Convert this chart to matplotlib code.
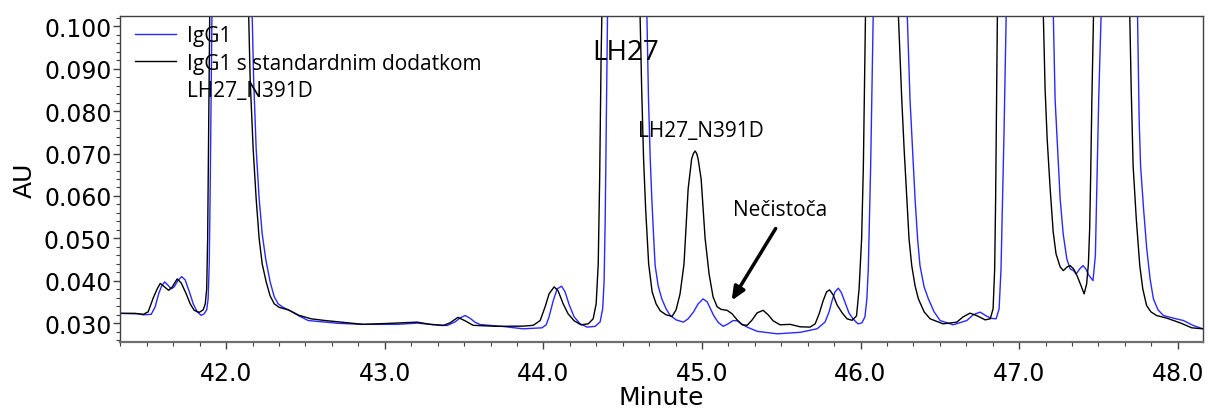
import matplotlib
matplotlib.use("Agg")
import matplotlib.pyplot as plt
from matplotlib.ticker import MultipleLocator, FormatStrFormatter
from matplotlib.lines import Line2D

# IgG1 (blue) - time [min], absorbance [AU]; tall peaks run off the top of the plot
t_igg1 = [41.332, 41.445, 41.477, 41.527, 41.552, 41.574, 41.593, 41.612, 41.631, 41.653,
          41.672, 41.694, 41.719, 41.741, 41.770, 41.792, 41.817, 41.842, 41.861, 41.877,
          41.886, 41.893, 41.899, 41.905, 41.910, 42.038, 42.164, 42.173, 42.189, 42.208,
          42.227, 42.249, 42.277, 42.303, 42.328, 42.359, 42.404, 42.454, 42.517, 42.624,
          42.706, 42.864, 43.078, 43.204, 43.286, 43.393, 43.444, 43.475, 43.507, 43.538,
          43.570, 43.602, 43.747, 43.873, 43.991, 44.018, 44.036, 44.062, 44.087, 44.115,
          44.137, 44.163, 44.194, 44.232, 44.276, 44.327, 44.358, 44.374, 44.383, 44.390,
          44.396, 44.404, 44.528, 44.653, 44.663, 44.674, 44.684, 44.696, 44.705, 44.724,
          44.747, 44.774, 44.800, 44.837, 44.883, 44.913, 44.946, 44.976, 45.007, 45.033,
          45.051, 45.074, 45.102, 45.134, 45.165, 45.196, 45.222, 45.254, 45.285, 45.348,
          45.474, 45.619, 45.726, 45.776, 45.802, 45.820, 45.839, 45.860, 45.880, 45.902,
          45.927, 45.952, 45.984, 46.009, 46.028, 46.040, 46.049, 46.056, 46.064, 46.072,
          46.080, 46.186, 46.295, 46.312, 46.328, 46.344, 46.360, 46.375, 46.401, 46.428,
          46.464, 46.502, 46.584, 46.670, 46.710, 46.754, 46.792, 46.824, 46.855, 46.874,
          46.886, 46.896, 46.905, 46.918, 47.069, 47.216, 47.227, 47.243, 47.259, 47.278,
          47.301, 47.322, 47.343, 47.360, 47.382, 47.403, 47.421, 47.438, 47.466, 47.481,
          47.490, 47.502, 47.517, 47.631, 47.747, 47.757, 47.766, 47.785, 47.805, 47.826,
          47.847, 47.876, 47.910, 47.965, 48.036, 48.099, 48.160]
au_igg1 = [0.03235, 0.03224, 0.03200, 0.03212, 0.03388, 0.03694, 0.03882, 0.03976, 0.03906, 0.03812,
           0.03859, 0.04000, 0.04101, 0.04024, 0.03718, 0.03459, 0.03271, 0.03188, 0.03224, 0.03318,
           0.03576, 0.04400, 0.06165, 0.08518, 0.10236, 0.30000, 0.10236, 0.08753, 0.07106, 0.05929,
           0.05106, 0.04518, 0.03976, 0.03624, 0.03459, 0.03376, 0.03294, 0.03184, 0.03066, 0.03028,
           0.03000, 0.02976, 0.02976, 0.03005, 0.02976, 0.02948, 0.03035, 0.03129, 0.03184, 0.03118,
           0.03024, 0.02972, 0.02925, 0.02871, 0.02894, 0.02965, 0.03153, 0.03529, 0.03812, 0.03875,
           0.03741, 0.03435, 0.03153, 0.02988, 0.02911, 0.02929, 0.03035, 0.03341, 0.03976, 0.05459,
           0.07506, 0.10236, 0.40000, 0.10236, 0.08283, 0.06871, 0.05929, 0.04988, 0.04360, 0.03882,
           0.03576, 0.03341, 0.03184, 0.03082, 0.03028, 0.03106, 0.03264, 0.03459, 0.03576, 0.03506,
           0.03365, 0.03184, 0.03024, 0.02929, 0.02988, 0.03066, 0.03059, 0.02976, 0.02911, 0.02812,
           0.02753, 0.02788, 0.02871, 0.03028, 0.03271, 0.03529, 0.03741, 0.03828, 0.03718, 0.03499,
           0.03247, 0.03106, 0.02988, 0.03012, 0.03153, 0.03576, 0.04282, 0.05459, 0.06713, 0.08518,
           0.10236, 0.35000, 0.10236, 0.08283, 0.07106, 0.05929, 0.04988, 0.04360, 0.03859, 0.03576,
           0.03271, 0.03066, 0.02965, 0.03066, 0.03200, 0.03264, 0.03176, 0.03118, 0.03106, 0.03341,
           0.04282, 0.05929, 0.07506, 0.10236, 0.35000, 0.10236, 0.08283, 0.07106, 0.05929, 0.05106,
           0.04518, 0.04282, 0.04242, 0.04165, 0.04282, 0.04360, 0.04282, 0.04141, 0.04007, 0.04595,
           0.06165, 0.08283, 0.10236, 0.30000, 0.10236, 0.07812, 0.06713, 0.05694, 0.04753, 0.04047,
           0.03576, 0.03318, 0.03184, 0.03129, 0.03066, 0.02948, 0.02871]

# IgG1 spiked with LH27_N391D standard (black)
t_std = [41.332, 41.426, 41.477, 41.508, 41.540, 41.565, 41.584, 41.610, 41.637, 41.660,
         41.691, 41.716, 41.748, 41.773, 41.798, 41.830, 41.855, 41.868, 41.877, 41.883,
         41.888, 41.893, 41.896, 42.019, 42.142, 42.151, 42.170, 42.189, 42.208, 42.227,
         42.252, 42.277, 42.303, 42.334, 42.391, 42.460, 42.536, 42.624, 42.706, 42.864,
         43.034, 43.204, 43.286, 43.368, 43.412, 43.461, 43.507, 43.557, 43.709, 43.873,
         43.936, 43.980, 44.011, 44.036, 44.068, 44.093, 44.125, 44.156, 44.194, 44.238,
         44.283, 44.314, 44.333, 44.346, 44.355, 44.364, 44.369, 44.491, 44.610, 44.620,
         44.632, 44.645, 44.664, 44.686, 44.711, 44.737, 44.774, 44.812, 44.837, 44.862,
         44.887, 44.913, 44.935, 44.946, 44.957, 44.967, 44.976, 44.995, 45.020, 45.045,
         45.070, 45.096, 45.121, 45.159, 45.190, 45.222, 45.254, 45.285, 45.317, 45.348,
         45.386, 45.418, 45.449, 45.493, 45.556, 45.619, 45.682, 45.714, 45.739, 45.764,
         45.786, 45.805, 45.827, 45.852, 45.884, 45.915, 45.947, 45.975, 45.991, 46.007,
         46.018, 46.031, 46.136, 46.239, 46.260, 46.275, 46.292, 46.306, 46.323, 46.344,
         46.365, 46.401, 46.439, 46.521, 46.607, 46.647, 46.691, 46.736, 46.786, 46.818,
         46.836, 46.846, 46.852, 46.858, 46.863, 47.006, 47.153, 47.164, 47.177, 47.196,
         47.215, 47.233, 47.259, 47.279, 47.303, 47.322, 47.344, 47.366, 47.391, 47.410,
         47.426, 47.437, 47.445, 47.451, 47.459, 47.469, 47.581, 47.698, 47.707, 47.719,
         47.739, 47.761, 47.780, 47.804, 47.831, 47.867, 47.931, 48.015, 48.089, 48.160]
au_std = [0.03235, 0.03235, 0.03212, 0.03271, 0.03600, 0.03812, 0.03941, 0.03859, 0.03777, 0.03859,
          0.04047, 0.03953, 0.03694, 0.03459, 0.03306, 0.03259, 0.03318, 0.03459, 0.03812, 0.04988,
          0.07106, 0.09224, 0.10236, 0.30000, 0.10236, 0.08753, 0.07106, 0.05929, 0.04988, 0.04400,
          0.03976, 0.03647, 0.03459, 0.03376, 0.03318, 0.03188, 0.03106, 0.03066, 0.03035, 0.02976,
          0.03000, 0.03028, 0.02976, 0.02948, 0.03012, 0.03141, 0.03059, 0.02953, 0.02929, 0.02934,
          0.02953, 0.03066, 0.03388, 0.03694, 0.03859, 0.03765, 0.03459, 0.03224, 0.03059, 0.02965,
          0.02988, 0.03106, 0.03459, 0.04400, 0.06400, 0.09224, 0.10236, 0.40000, 0.10236, 0.08518,
          0.06871, 0.05694, 0.04400, 0.03741, 0.03459, 0.03294, 0.03200, 0.03165, 0.03318, 0.03694,
          0.04400, 0.06165, 0.06871, 0.07000, 0.07059, 0.07000, 0.06871, 0.06400, 0.05000, 0.04165,
          0.03624, 0.03388, 0.03329, 0.03306, 0.03224, 0.03082, 0.02965, 0.02953, 0.03082, 0.03247,
          0.03306, 0.03200, 0.03059, 0.02965, 0.02976, 0.02918, 0.02911, 0.02988, 0.03224, 0.03529,
          0.03741, 0.03788, 0.03671, 0.03435, 0.03247, 0.03106, 0.03071, 0.03176, 0.03812, 0.04988,
          0.06713, 0.10236, 0.35000, 0.10236, 0.08283, 0.07106, 0.05929, 0.04988, 0.04360, 0.03882,
          0.03576, 0.03271, 0.03106, 0.02988, 0.03028, 0.03153, 0.03240, 0.03176, 0.03082, 0.03106,
          0.03341, 0.04282, 0.05929, 0.08283, 0.10236, 0.35000, 0.10236, 0.08518, 0.07341, 0.06165,
          0.05153, 0.04635, 0.04329, 0.04242, 0.04329, 0.04360, 0.04282, 0.04118, 0.03882, 0.03694,
          0.03929, 0.04400, 0.05224, 0.06400, 0.08283, 0.10236, 0.30000, 0.10236, 0.08518, 0.06713,
          0.05459, 0.04360, 0.03812, 0.03419, 0.03271, 0.03184, 0.03122, 0.03012, 0.02894, 0.02871]

labels = ["IgG1", "IgG1 s standardnim dodatkom", "LH27_N391D"]
x_min, x_max = 41.33, 48.16
y_min, y_max = 0.0256, 0.1024

fig = plt.figure(figsize=(12.08, 4.10), dpi=100)
ax = fig.add_axes([0.0993, 0.1634, 0.8966, 0.7951])

ax.plot(t_igg1, au_igg1, color="#2828ff", lw=1.0)
ax.plot(t_std, au_std, color="black", lw=1.0)

ax.set_xlim(x_min, x_max)
ax.set_ylim(y_min, y_max)

ax.xaxis.set_major_locator(MultipleLocator(1.0))
ax.xaxis.set_minor_locator(MultipleLocator(1 / 6))
ax.xaxis.set_major_formatter(FormatStrFormatter("%.1f"))
ax.yaxis.set_major_locator(MultipleLocator(0.01))
ax.yaxis.set_minor_locator(MultipleLocator(0.002))
ax.yaxis.set_major_formatter(FormatStrFormatter("%.3f"))

ax.tick_params(which="major", direction="out", length=5, width=1, color="#404040", labelsize=17)
ax.tick_params(which="minor", direction="out", length=3, width=0.8, color="#404040")
ax.tick_params(axis="x", which="major", pad=9)
ax.tick_params(axis="y", which="major", pad=1)

for side in ["left", "top", "right"]:
    ax.spines[side].set_color("#404040")
    ax.spines[side].set_linewidth(1.0)
ax.spines["bottom"].set_color("#6e6e6e")
ax.spines["bottom"].set_linewidth(1.6)

ax.set_xlabel("Minute", fontsize=18, labelpad=0)
ax.set_ylabel("AU", fontsize=18, labelpad=5)

handles = [Line2D([], [], color="#2828ff", lw=1.0),
           Line2D([], [], color="black", lw=1.0),
           Line2D([], [], color="none")]
ax.legend(handles, labels, loc="upper left", frameon=False,
          prop={"family": "Open Sans", "size": 15},
          handlelength=2.0, handletextpad=0.5, labelspacing=0.3,
          borderaxespad=0.0, bbox_to_anchor=(0.006, 0.997))

ax.text(44.516, 0.0939, "LH27", fontsize=20, family="Open Sans", ha="center", va="center")
ax.text(44.995, 0.0755, "LH27_N391D", fontsize=15, family="Open Sans", ha="center", va="center")
ax.text(45.493, 0.0569, "Nečistoča", fontsize=15, family="Open Sans", ha="center", va="center")
ax.annotate("", xy=(45.178, 0.0348), xytext=(45.474, 0.0529),
            arrowprops=dict(arrowstyle="-|>,head_length=0.8,head_width=0.35",
                            color="black", lw=2.5))

fig.savefig("out.png", dpi=100)
